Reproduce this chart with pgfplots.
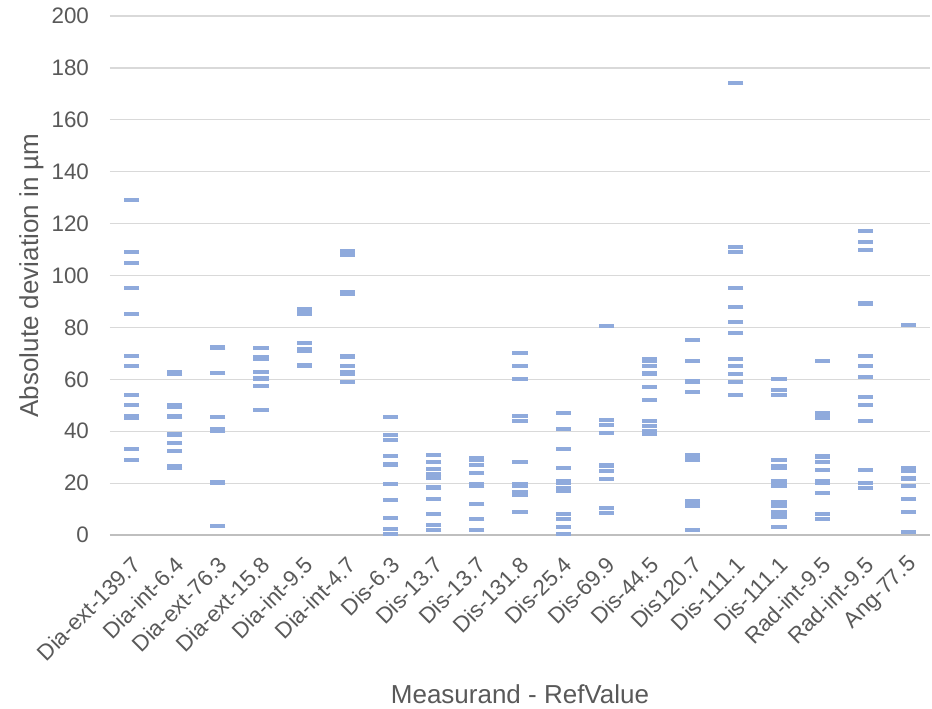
\documentclass[border=0pt]{standalone}
\usepackage{pgfplots}
\pgfplotsset{compat=1.18}
\usepackage{fontspec}
\setmainfont{Liberation Sans}
\definecolor{mk}{RGB}{143,170,220}
\definecolor{txt}{RGB}{89,89,89}
\definecolor{grd}{RGB}{217,217,217}
\definecolor{axl}{RGB}{191,191,191}
\begin{document}
\begin{tikzpicture}
\useasboundingbox (0,0) rectangle (466pt,354pt);
\begin{axis}[
  at={(55pt,86.5pt)}, anchor=south west,
  scale only axis, width=410pt, height=259.5pt,
  xmin=-0.5, xmax=18.5, ymin=0, ymax=200,
  ytick={0,20,...,200},
  xtick={0,...,18},
  xticklabels={Dia-ext-139.7,Dia-int-6.4,Dia-ext-76.3,Dia-ext-15.8,Dia-int-9.5,Dia-int-4.7,Dis-6.3,Dis-13.7,Dis-13.7,Dis-131.8,Dis-25.4,Dis-69.9,Dis-44.5,Dis120.7,Dis-111.1,Dis-111.1,Rad-int-9.5,Rad-int-9.5,Ang-77.5},
  axis x line*=bottom, axis y line*=left,
  x axis line style={draw=axl, line width=0.7pt, -},
  y axis line style={draw=none},
  ymajorgrids, grid style={draw=grd, line width=0.6pt},
  major tick length=0pt,
  tick style={draw=none},
  /pgf/number format/assume math mode=true,
  ticklabel style={font=\fontsize{11.2}{13}\selectfont, text=txt},
  yticklabel style={xshift=-7pt},
  xticklabel style={xshift=2.5pt, yshift=-13pt, rotate=45, anchor=east, inner sep=0pt},
  xlabel={Measurand - RefValue},
  ylabel={Absolute deviation in µm},
  label style={font=\fontsize{13}{15}\selectfont, text=txt},
  xlabel style={at={(axis description cs:0.5,0)}, anchor=base, yshift=-84pt},
  ylabel style={at={(axis description cs:-0.0878,0.5)}, anchor=base},
  clip=false,
]
\addplot[only marks, mark=-, mark size=3.8pt, mark options={line width=2pt, draw=mk}] table[x=x, y=y] {
x y
0 129
0 109
0 105
0 95
0 85
0 69
0 65
0 54
0 50
0 46
0 45
0 33
0 29
1 63
1 62
1 50
1 49.5
1 46
1 45.5
1 39
1 38.5
1 35.5
1 32.5
1 26.5
1 26
2 72.5
2 72
2 62.5
2 45.5
2 41
2 40
2 20.5
2 20
2 3.5
3 72
3 68.5
3 68
3 63
3 60.5
3 60
3 57.5
3 48
4 87
4 86
4 85
4 74
4 71.5
4 71
4 65.5
4 65
5 109.5
5 108.5
5 108
5 93.5
5 93
5 69
5 68.5
5 65
5 63
5 62
5 59
6 45.5
6 38.5
6 36.5
6 30.5
6 27.5
6 27
6 19.5
6 13.5
6 6.5
6 2.5
6 0.5
7 31
7 28
7 25.5
7 23.5
7 22
7 18.5
7 18
7 14
7 8
7 4
7 2
8 29.5
8 29
8 27
8 24
8 19.5
8 19
8 12
8 6
8 2
9 70
9 65
9 60
9 46
9 44
9 28
9 19.5
9 19
9 16.5
9 15.5
9 9
10 47
10 41
10 33
10 26
10 21
10 20
10 18
10 17
10 8
10 6
10 3
10 0.5
11 80.5
11 44.5
11 42.5
11 39.5
11 27
11 26.5
11 24.5
11 21.5
11 10.5
11 8.5
12 68
12 67
12 65
12 62.5
12 62
12 57
12 52
12 44
12 42
12 40
12 39
13 75
13 67
13 59.5
13 59
13 55
13 31
13 30
13 29
13 13
13 12
13 11
13 2
14 174
14 111
14 109
14 95
14 88
14 82
14 78
14 68
14 65
14 62
14 59
14 54
15 60
15 56
15 54
15 29
15 26.5
15 26
15 21
15 20
15 19
15 12.8
15 11
15 9
15 7.5
15 7
15 3
16 67
16 47
16 46
16 45
16 30.5
16 30
16 28
16 25
16 21
16 20
16 16
16 8
16 6
17 117
17 113
17 110
17 89.5
17 89
17 69
17 65
17 61
17 53
17 50
17 44
17 25
17 20
17 18
18 81
18 26
18 24.5
18 22
18 21.5
18 19
18 14
18 9
18 1
};
\end{axis}
\end{tikzpicture}
\end{document}
